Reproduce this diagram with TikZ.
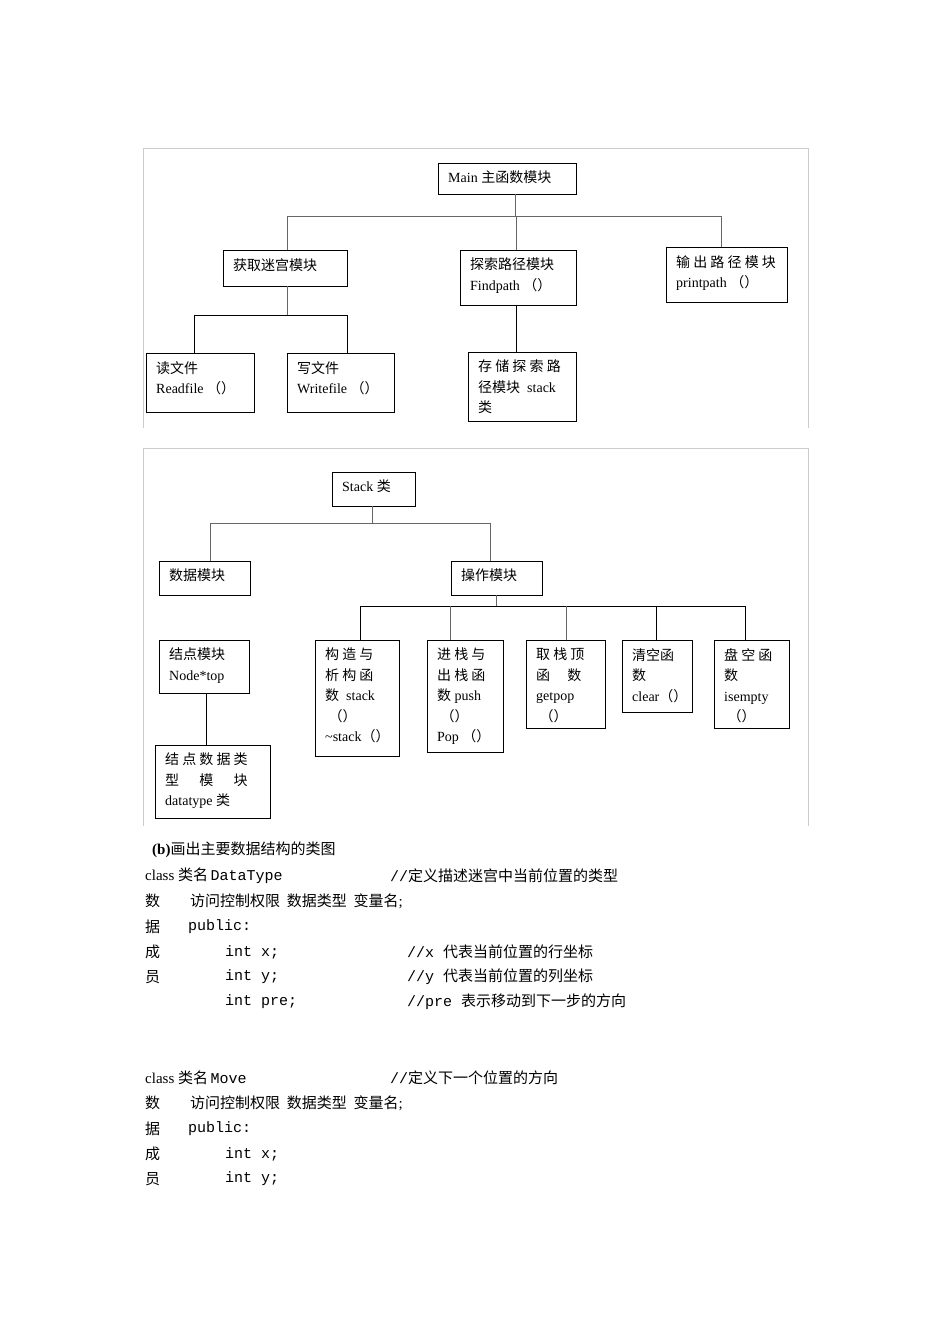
\documentclass[tikz,border=0pt]{standalone}
\usepackage{fontspec}
\setmainfont{Liberation Serif}
\newfontfamily\zhf{Noto Sans CJK SC}
\newfontfamily\monof{Liberation Mono}
\newcommand{\zh}[1]{{\zhf #1}}
\begin{document}
\begin{tikzpicture}[x=1pt,y=-1pt,
  tx/.style={anchor=west,inner sep=0pt,font=\fontsize{15}{16}\selectfont}]
\useasboundingbox (0,0) rectangle (950,1344);
\fill[white] (0,0) rectangle (950,1344);
\draw[black!20] (143,428) -- (143,148) -- (808,148) -- (808,428);
\draw[black!20] (143,826) -- (143,448) -- (808,448) -- (808,826);
\newcommand{\bxat}[6]{\draw[line width=1pt] (#1,#2) rectangle (#3,#4);
  \node[inner sep=0pt,anchor=north west,align=left,font=\fontsize{14}{20.5}\selectfont] (#5) at (#1+10,#2+8) {#6};}
\bxat{438}{163}{576}{194}{main}{Main \zh{主函数模块}}
\bxat{223}{250}{347}{286}{get}{\zh{获取迷宫模块}}
\bxat{460}{250}{576}{305}{find}{\zh{探索路径模块}\\Findpath \zh{（）}}
\bxat{666}{247}{787}{302}{out}{\zh{输 出 路 径 模 块}\\printpath \zh{（）}}
\bxat{146}{353}{254}{412}{rd}{\zh{读文件}\\Readfile \zh{（）}}
\bxat{287}{353}{394}{412}{wr}{\zh{写文件}\\Writefile \zh{（）}}
\bxat{468}{352}{576}{421}{st}{\zh{存 储 探 索 路}\\\zh{径模块}\ \ stack\\\zh{类}}
\draw[line width=0.8pt,black!60] (515,194) -- (515,216);
\draw[line width=0.8pt,black!60] (287,250) -- (287,216) -- (721,216) -- (721,247);
\draw[line width=0.8pt,black!60] (516,216) -- (516,250);
\draw[line width=0.8pt,black!60] (287,286) -- (287,315);
\draw[line width=1pt] (194,353) -- (194,315) -- (347,315) -- (347,353);
\draw[line width=0.8pt] (516,305) -- (516,352);
\bxat{332}{472}{415}{506}{stk}{Stack \zh{类}}
\bxat{159}{561}{250}{595}{dat}{\zh{数据模块}}
\bxat{451}{561}{542}{595}{op}{\zh{操作模块}}
\bxat{159}{640}{249}{693}{nd}{\zh{结点模块}\\Node*top}
\bxat{155}{745}{270}{818}{ndt}{\zh{结 点 数 据 类}\\\zh{型\quad\ \ 模\quad\ \ 块}\\datatype \zh{类}}
\bxat{315}{640}{399}{756}{c1}{\zh{构 造 与}\\\zh{析 构 函}\\\zh{数}\ \ stack\\\ \zh{（）}\\\textasciitilde stack\zh{（）}}
\bxat{427}{640}{503}{752}{c2}{\zh{进 栈 与}\\\zh{出 栈 函}\\\zh{数} push\\\ \zh{（）}\\Pop \zh{（）}}
\bxat{526}{640}{605}{728}{c3}{\zh{取 栈 顶}\\\zh{函\quad\ 数}\\getpop\\\ \zh{（）}}
\bxat{622}{640}{692}{712}{c4}{\zh{清空函}\\\zh{数}\\clear\zh{（）}}
\bxat{714}{640}{789}{728}{c5}{\zh{盘 空 函}\\\zh{数}\\isempty\\\ \zh{（）}}
\draw[line width=0.8pt,black!60] (372,506) -- (372,523);
\draw[line width=0.8pt,black!60] (210,561) -- (210,523) -- (490,523) -- (490,561);
\draw[line width=0.8pt,black!60] (496,595) -- (496,606);
\draw[line width=1pt] (360,640) -- (360,606) -- (745,606) -- (745,640);
\draw[line width=0.8pt,black!60] (450,606) -- (450,640);
\draw[line width=0.8pt,black!60] (566,606) -- (566,640);
\draw[line width=1pt] (656,606) -- (656,640);
\draw[line width=1pt] (206,693) -- (206,745);
\node[tx] (t0) at (152,850) {\textbf{(b)}\zh{画出主要数据结构的类图}};
\newcommand{\cls}[3]{%
 \node[tx] at (145,#1) {class \zh{类名}\,{\monof #2}};
 \node[tx] at (390,#1) {{\monof //}\zh{#3}};
 \node[tx] at (145,#1+25) {\zh{数}}; \node[tx] at (190,#1+25) {\zh{访问控制权限\ \ 数据类型\ \ 变量名};};
 \node[tx] at (145,#1+51) {\zh{据}}; \node[tx] at (188,#1+51) {\monof public:};
 \node[tx] at (145,#1+76) {\zh{成}}; \node[tx] at (225,#1+76) {\monof int x;};
 \node[tx] at (145,#1+101) {\zh{员}}; \node[tx] at (225,#1+101) {\monof int y;};}
\cls{876}{DataType}{定义描述迷宫中当前位置的类型}
\cls{1078}{Move}{定义下一个位置的方向}
\node[tx] at (225,1002) {\monof int pre;};
\node[tx] at (407,952) {{\monof //x }\zh{代表当前位置的行坐标}};
\node[tx] at (407,977) {{\monof //y }\zh{代表当前位置的列坐标}};
\node[tx] at (407,1002) {{\monof //pre }\zh{表示移动到下一步的方向}};
\end{tikzpicture}
\end{document}
